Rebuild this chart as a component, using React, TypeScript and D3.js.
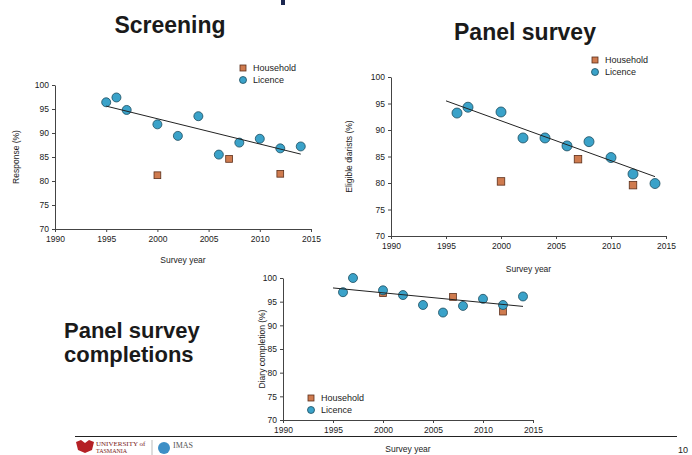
import { useRef, useEffect } from "react";
import * as d3 from "d3";

// tick labels shared by all three panels
const xTicks = [1990, 1995, 2000, 2005, 2010, 2015];
const yTicks = [70, 75, 80, 85, 90, 95, 100];

// Screening
const screeningLicenceYears = [1995, 1996, 1997, 2000, 2002, 2004, 2006, 2008, 2010, 2012, 2014];
const screeningLicence = [96.4, 97.4, 94.8, 91.8, 89.4, 93.5, 85.5, 88.0, 88.8, 86.8, 87.2];
const screeningHouseholdYears = [2000, 2007, 2012];
const screeningHousehold = [81.2, 84.6, 81.5];
const screeningTrendYears = [1995, 2014];
const screeningTrend = [95.6, 85.6];

// Panel survey
const panelLicenceYears = [1996, 1997, 2000, 2002, 2004, 2006, 2008, 2010, 2012, 2014];
const panelLicence = [93.2, 94.3, 93.4, 88.5, 88.5, 87.0, 87.8, 84.8, 81.7, 79.9];
const panelHouseholdYears = [2000, 2007, 2012];
const panelHousehold = [80.3, 84.5, 79.6];
const panelTrendYears = [1995, 2014];
const panelTrend = [95.5, 81.2];

// Panel survey completions
const diaryLicenceYears = [1996, 1997, 2000, 2002, 2004, 2006, 2008, 2010, 2012, 2014];
const diaryLicence = [97.0, 100, 97.4, 96.4, 94.3, 92.7, 94.1, 95.6, 94.3, 96.1];
const diaryHouseholdYears = [2000, 2007, 2012];
const diaryHousehold = [96.8, 96.0, 92.9];
const diaryTrendYears = [1995, 2014];
const diaryTrend = [97.9, 94.0];

const LICENCE = "#3aa2c9";
const LICENCE_EDGE = "#1d4c5e";
const HOUSE = "#cf7b4f";
const HOUSE_EDGE = "#5b2e1a";
const FONT = "'Liberation Sans', Arial, sans-serif";

interface PanelCfg {
  x: [number, number];
  y: [number, number];
  yLabel: string;
  yLabelX: number;
  xLabelY: number;
  legend: [number, number];
  r: number;
  licYears: number[];
  lic: number[];
  hhYears: number[];
  hh: number[];
  trendYears: number[];
  trend: number[];
}

function drawPanel(root: d3.Selection<SVGGElement, unknown, null, undefined>, c: PanelCfg) {
  const x = d3.scaleLinear().domain([1990, 2015]).range(c.x);
  const y = d3.scaleLinear().domain([70, 100]).range(c.y);
  const g = root.append("g");

  g.append("g")
    .attr("transform", `translate(0,${c.y[0]})`)
    .call(d3.axisBottom(x).tickValues(xTicks).tickFormat(d3.format("d")).tickSize(3).tickSizeOuter(0))
    .call((a) => a.selectAll("text").attr("fill", "#1a1a1a").attr("font-size", "8.5px").attr("font-family", FONT).attr("dy", "0.85em"))
    .call((a) => a.selectAll("line,path").attr("stroke", "#444"));

  g.append("g")
    .attr("transform", `translate(${c.x[0]},0)`)
    .call(d3.axisLeft(y).tickValues(yTicks).tickSize(3).tickSizeOuter(0))
    .call((a) => a.selectAll("text").attr("fill", "#1a1a1a").attr("font-size", "8.5px").attr("font-family", FONT))
    .call((a) => a.selectAll("line,path").attr("stroke", "#444"));

  // axis titles
  g.append("text")
    .attr("transform", `translate(${c.yLabelX},${(c.y[0] + c.y[1]) / 2}) rotate(-90)`)
    .attr("text-anchor", "middle")
    .attr("font-size", 8.5)
    .attr("font-family", FONT)
    .attr("fill", "#222")
    .text(c.yLabel);
  g.append("text")
    .attr("x", (c.x[0] + c.x[1]) / 2)
    .attr("y", c.xLabelY)
    .attr("text-anchor", "middle")
    .attr("font-size", 8.5)
    .attr("font-family", FONT)
    .attr("fill", "#222")
    .text("Survey year");

  const s = c.r * 1.5;
  // household squares
  g.selectAll("rect.hh")
    .data(c.hh.map((v, i) => [c.hhYears[i], v]))
    .join("rect")
    .attr("x", (d) => x(d[0]) - s / 2)
    .attr("y", (d) => y(d[1]) - s / 2)
    .attr("width", s)
    .attr("height", s)
    .attr("fill", HOUSE)
    .attr("stroke", HOUSE_EDGE)
    .attr("stroke-width", 0.8);

  // licence circles
  g.selectAll("circle.lic")
    .data(c.lic.map((v, i) => [c.licYears[i], v]))
    .join("circle")
    .attr("cx", (d) => x(d[0]))
    .attr("cy", (d) => y(d[1]))
    .attr("r", c.r)
    .attr("fill", LICENCE)
    .attr("stroke", LICENCE_EDGE)
    .attr("stroke-width", 0.8);

  // trend line
  const line = d3
    .line<[number, number]>()
    .x((d) => x(d[0]))
    .y((d) => y(d[1]));
  g.append("path")
    .datum(c.trend.map((v, i) => [c.trendYears[i], v] as [number, number]))
    .attr("fill", "none")
    .attr("stroke", "#222")
    .attr("stroke-width", 1)
    .attr("d", line);

  // legend
  const [lx, ly] = c.legend;
  const lg = g.append("g").attr("transform", `translate(${lx},${ly})`);
  lg.append("rect").attr("x", -3).attr("y", -3).attr("width", 6).attr("height", 6)
    .attr("fill", HOUSE).attr("stroke", HOUSE_EDGE).attr("stroke-width", 0.8);
  lg.append("circle").attr("cx", 0).attr("cy", 12).attr("r", 3.5)
    .attr("fill", LICENCE).attr("stroke", LICENCE_EDGE).attr("stroke-width", 0.8);
  lg.selectAll("text")
    .data(["Household", "Licence"])
    .join("text")
    .attr("x", 10)
    .attr("y", (_d, i) => i * 12 + 3)
    .attr("font-size", 9)
    .attr("font-family", FONT)
    .attr("fill", "#222")
    .text((d) => d);
}

export default function App() {
  const svgRef = useRef<SVGSVGElement>(null);

  useEffect(() => {
    const svg = svgRef.current;
    if (!svg) return;
    const sel = d3.select(svg);
    sel.selectAll("*").remove();
    const root = sel.append("g");

    root.append("rect").attr("width", 692).attr("height", 455).attr("fill", "#fff");
    // cut-off slide title remnant
    root.append("rect").attr("x", 281).attr("y", 0).attr("width", 4).attr("height", 5).attr("fill", "#1c2850");

    drawPanel(root, {
      x: [55, 311], y: [229, 85], yLabel: "Response (%)", yLabelX: 19, xLabelY: 263,
      legend: [243, 68], r: 4.5,
      licYears: screeningLicenceYears, lic: screeningLicence,
      hhYears: screeningHouseholdYears, hh: screeningHousehold,
      trendYears: screeningTrendYears, trend: screeningTrend,
    });
    drawPanel(root, {
      x: [391, 666], y: [236, 77], yLabel: "Eligible diarists (%)", yLabelX: 352, xLabelY: 272,
      legend: [595, 60], r: 5,
      licYears: panelLicenceYears, lic: panelLicence,
      hhYears: panelHouseholdYears, hh: panelHousehold,
      trendYears: panelTrendYears, trend: panelTrend,
    });
    drawPanel(root, {
      x: [283, 533], y: [420, 278], yLabel: "Diary completion (%)", yLabelX: 265, xLabelY: 452,
      legend: [311, 398], r: 4.5,
      licYears: diaryLicenceYears, lic: diaryLicence,
      hhYears: diaryHouseholdYears, hh: diaryHousehold,
      trendYears: diaryTrendYears, trend: diaryTrend,
    });

    // titles
    const title = (t: string, x: number, y: number, anchor: string, size: number) =>
      root.append("text").attr("x", x).attr("y", y).attr("text-anchor", anchor)
        .attr("font-size", size).attr("font-weight", "bold").attr("font-family", FONT)
        .attr("fill", "#1a1a1a").text(t);
    title("Screening", 170, 33, "middle", 23);
    title("Panel survey", 525, 40, "middle", 23);
    title("Panel survey", 64, 338, "start", 22);
    title("completions", 64, 362, "start", 22);

    // footer
    root.append("line").attr("x1", 75).attr("x2", 677).attr("y1", 436.5).attr("y2", 436.5)
      .attr("stroke", "#222").attr("stroke-width", 1.2);
    root.append("path").attr("d", "M76,442 l5,-2 l4,3 l4,-3 l5,2 l-2,8 l-7,3 l-7,-3 Z").attr("fill", "#b52025");
    root.append("text").attr("x", 96).attr("y", 446).attr("font-size", 7)
      .attr("font-family", "'Liberation Serif', serif").attr("fill", "#7a1a1a").text("UNIVERSITY of");
    root.append("text").attr("x", 96).attr("y", 453).attr("font-size", 6)
      .attr("font-family", "'Liberation Serif', serif").attr("fill", "#7a1a1a").text("TASMANIA");
    root.append("line").attr("x1", 152).attr("x2", 152).attr("y1", 440).attr("y2", 455).attr("stroke", "#bbb");
    root.append("circle").attr("cx", 164).attr("cy", 448).attr("r", 6).attr("fill", "#3d8fc6");
    root.append("text").attr("x", 173).attr("y", 448).attr("font-size", 8)
      .attr("font-family", "'Liberation Serif', serif").attr("fill", "#555").text("IMAS");
    root.append("text").attr("x", 683).attr("y", 453).attr("text-anchor", "middle").attr("font-size", 9)
      .attr("font-family", FONT).attr("fill", "#222").text("10");
  }, []);

  return (
    <svg
      ref={svgRef}
      width={692}
      height={455}
      style={{ position: "absolute", left: 0, top: 0, display: "block" }}
    />
  );
}
